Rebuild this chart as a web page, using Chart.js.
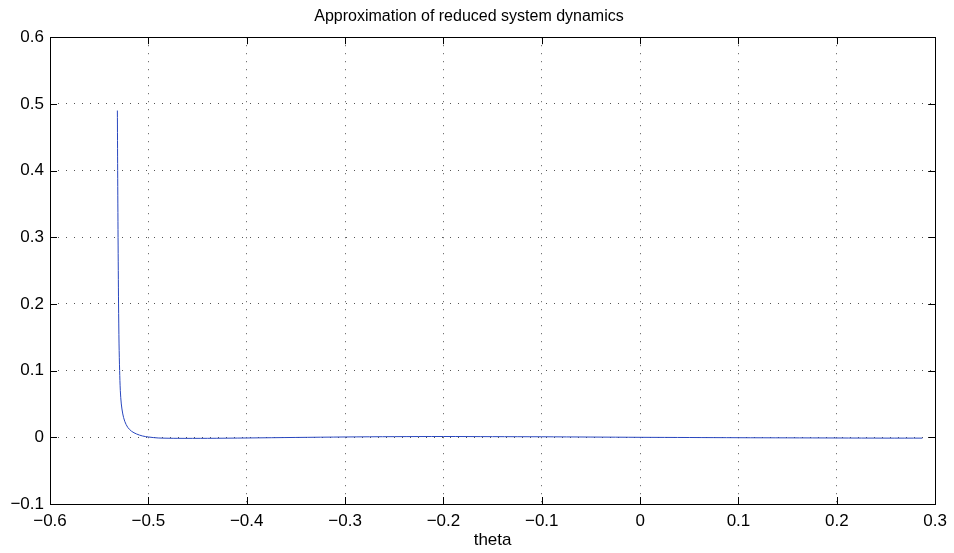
<!DOCTYPE html>
<html>
<head>
<meta charset="utf-8">
<script src="https://cdn.jsdelivr.net/npm/chart.js@4/dist/chart.umd.min.js"></script>
<style>
  html, body { margin: 0; padding: 0; background: #fff; }
  #wrap { width: 954px; height: 553px; }
</style>
</head>
<body>
<div id="wrap"><canvas id="plot"></canvas></div>
<script>
// values
var theta_vals = [-0.5315, -0.5312, -0.5308, -0.5303, -0.5298, -0.5292, -0.5285, -0.5275, -0.526, -0.524,
                  -0.521, -0.517, -0.512, -0.506, -0.500, -0.49, -0.47, -0.44, -0.40, -0.35,
                  -0.30, -0.25, -0.20, -0.15, -0.10, -0.05, 0.0, 0.05, 0.10, 0.15,
                  0.20, 0.25, 0.287]
var dyn_vals = [0.49, 0.40, 0.30, 0.20, 0.14, 0.10, 0.07, 0.05, 0.035, 0.024,
                0.015, 0.009, 0.005, 0.002, 0.0005, -0.001, -0.0015, -0.0015, -0.001, -0.0002,
                0.0005, 0.001, 0.0012, 0.001, 0.0008, 0.0004, 0.0, -0.0003, -0.0006, -0.0008,
                -0.001, -0.0012, -0.0012]
var x_range = [-0.6, 0.3]
var y_range = [-0.1, 0.6]
var tick_step = 0.1

var title_text = "Approximation of reduced system dynamics"
var x_label = "theta"

var points = []
for (var i = 0; i < theta_vals.length; i++) {
    points.push({x: theta_vals[i], y: dyn_vals[i]})
}

function fmtTick(v) {
    var r = Math.round(v * 10) / 10
    if (Math.abs(r) < 1e-9) return "0"
    var s = Math.abs(r).toString()
    return (r < 0 ? "\u2212" : "") + s
}

const FONT = "Liberation Sans, Arial, Helvetica, sans-serif"

// box + inward tick marks, matlab style
const boxPlugin = {
    id: "box",
    afterDatasetsDraw(chart) {
        const ctx = chart.ctx
        const a = chart.chartArea
        const xs = chart.scales.x
        const ys = chart.scales.y
        ctx.save()
        ctx.strokeStyle = "#000"
        ctx.lineWidth = 1
        ctx.beginPath()
        xs.ticks.forEach(t => {
            var px = Math.round(xs.getPixelForValue(t.value)) + 0.5
            ctx.moveTo(px, a.bottom); ctx.lineTo(px, a.bottom - 7)
            ctx.moveTo(px, a.top); ctx.lineTo(px, a.top + 7)
        })
        ys.ticks.forEach(t => {
            var py = Math.round(ys.getPixelForValue(t.value)) + 0.5
            ctx.moveTo(a.left, py); ctx.lineTo(a.left + 7, py)
            ctx.moveTo(a.right, py); ctx.lineTo(a.right - 7, py)
        })
        ctx.stroke()
        ctx.strokeRect(Math.round(a.left) + 0.5, Math.round(a.top) + 0.5,
                       Math.round(a.right - a.left), Math.round(a.bottom - a.top))
        ctx.restore()
    }
}

new Chart(document.getElementById("plot"), {
    type: "scatter",
    data: {
        datasets: [{
            data: points,
            showLine: true,
            borderColor: "rgb(40,70,190)",
            borderWidth: 1,
            pointRadius: 0,
            tension: 0.3
        }]
    },
    options: {
        responsive: true,
        maintainAspectRatio: false,
        animation: false,
        layout: { padding: { left: 0, right: 16, top: 0, bottom: 0 } },
        plugins: {
            legend: { display: false },
            tooltip: { enabled: false },
            title: {
                display: true,
                text: title_text,
                color: "#000",
                font: { family: FONT, size: 16, weight: "normal" },
                padding: { top: 7, bottom: 11 }
            }
        },
        scales: {
            x: {
                type: "linear",
                min: x_range[0],
                max: x_range[1],
                afterFit(scale) { scale.height = 49 },
                ticks: {
                    stepSize: tick_step,
                    color: "#000",
                    padding: 7,
                    maxRotation: 0,
                    font: { family: FONT, size: 17 },
                    callback: v => fmtTick(v)
                },
                grid: {
                    color: "#555",
                    lineWidth: 1,
                    drawTicks: false
                },
                border: { display: false, dash: [1, 7] },
                title: {
                    display: true,
                    text: x_label,
                    color: "#000",
                    font: { family: FONT, size: 17 },
                    padding: { top: 0, bottom: 2 }
                }
            },
            y: {
                min: y_range[0],
                max: y_range[1],
                afterFit(scale) { scale.width = 50 },
                ticks: {
                    stepSize: tick_step,
                    color: "#000",
                    padding: 6,
                    font: { family: FONT, size: 17 },
                    callback: v => fmtTick(v)
                },
                grid: {
                    color: "#555",
                    lineWidth: 1,
                    drawTicks: false
                },
                border: { display: false, dash: [1, 7] }
            }
        }
    },
    plugins: [boxPlugin]
})
</script>
</body>
</html>
